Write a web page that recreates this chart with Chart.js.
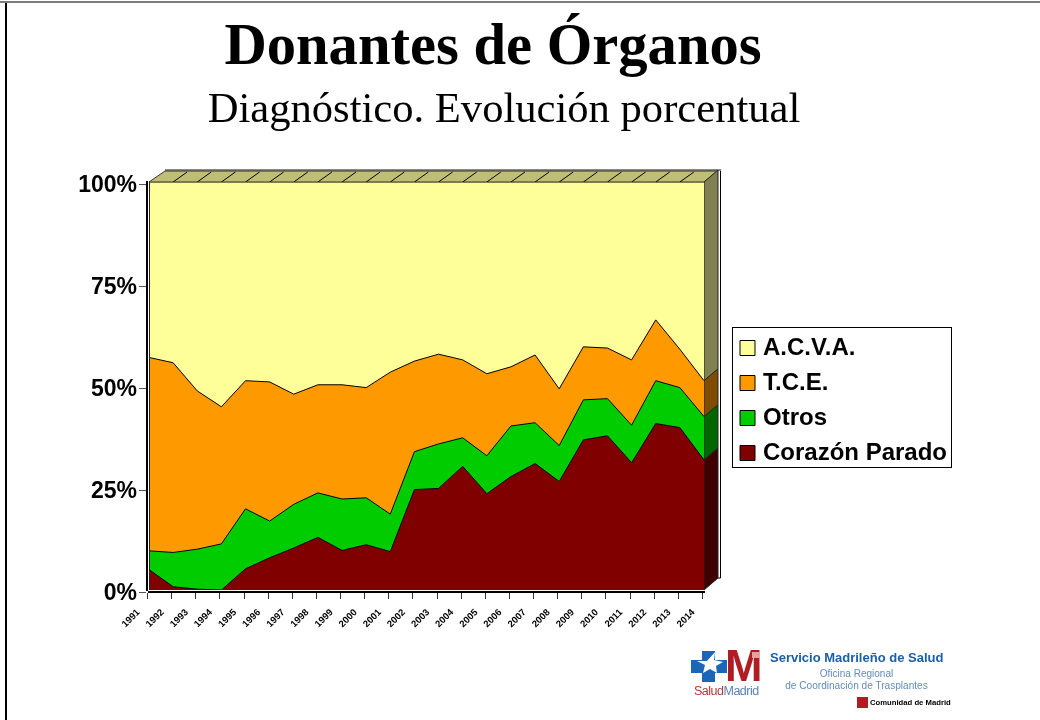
<!DOCTYPE html>
<html>
<head>
<meta charset="utf-8">
<script src="https://cdn.jsdelivr.net/npm/chart.js@4"></script>
<style>
  html, body { margin: 0; padding: 0; background: #fff; overflow: hidden; }
  #page { position: relative; width: 1040px; height: 720px; overflow: hidden; }
  #myChart { position: absolute; left: 0; top: 0; }
  .frameTop { position: absolute; left: 0; top: 1px; width: 1040px; height: 2px; background: #7c7c7c; }
  .frameLeft { position: absolute; left: 5px; top: 3px; width: 2px; height: 717px; background: #000; }
  .txt { position: absolute; white-space: nowrap; }
  #title { left: 0; width: 986px; top: 11px; text-align: center; font: bold 58.6px "Liberation Serif"; color: #000; }
  #subtitle { left: 0; width: 1008px; top: 83px; text-align: center; font: 42.6px "Liberation Serif"; color: #000; }
  #sms { left: 770px; top: 650px; font: bold 13px "Liberation Sans"; color: #1c5ea8; }
  #ofi1 { left: 785px; width: 143px; top: 668px; text-align: center; font: 10px "Liberation Sans"; color: #5f8cc2; }
  #ofi2 { left: 785px; width: 143px; top: 680px; text-align: center; font: 10.1px "Liberation Sans"; color: #5f8cc2; }
  #salud { left: 694px; top: 684px; font: 12.5px "Liberation Sans"; letter-spacing: -0.5px; color: #b23a3a; }
  #salud span { color: #5b7fb5; }
  #cam { left: 870px; top: 698px; font: bold 7.7px "Liberation Sans"; color: #000; }
  #logoM { left: 725px; top: 640px; font: bold 45px "Liberation Sans"; color: #b01c22; }
  #logoMark { position: absolute; left: 752px; top: 652px; width: 8px; height: 6px; background: #e2a3a5; }
  svg { position: absolute; }
</style>
</head>
<body>
<div id="page">
  <canvas id="myChart" width="1040" height="720"></canvas>
  <div class="frameTop"></div><div class="frameLeft"></div>
  <div class="txt" id="title">Donantes de Órganos</div>
  <div class="txt" id="subtitle">Diagnóstico. Evolución porcentual</div>
  <svg style="left:691px;top:649px" width="36" height="34" viewBox="0 0 36 34">
    <path d="M11 2h13v9h12v13H24v9H11v-9H0V11h11z" fill="#1c66b8"/>
    <path d="M24 3l-1 8 9 2-7 4 1 7-7-4-7 4 2-8-8-4h10z" fill="#fff"/>
  </svg>
  <div class="txt" id="logoM">M</div>
  <div id="logoMark"></div>
  <div class="txt" id="salud">Salud<span>Madrid</span></div>
  <div class="txt" id="sms">Servicio Madrileño de Salud</div>
  <div class="txt" id="ofi1">Oficina Regional</div>
  <div class="txt" id="ofi2">de Coordinación de Trasplantes</div>
  <svg style="left:857px;top:697px" width="11" height="11"><rect width="11" height="11" fill="#b01c22"/></svg>
  <div class="txt" id="cam">Comunidad de Madrid</div>
</div>
<script>
const years = ['1991','1992','1993','1994','1995','1996','1997','1998','1999','2000','2001','2002',
  '2003','2004','2005','2006','2007','2008','2009','2010','2011','2012','2013','2014'];

const corazonParado = [5.0,0.8,0.2,0,5.2,7.9,10.3,12.9,9.7,11.1,9.4,24.6,24.9,30.3,23.6,27.8,31.0,26.6,36.8,37.8,31.2,40.8,39.8,31.9];
const otros = [4.6,8.4,9.8,11.3,14.7,9.0,10.7,10.9,12.6,11.5,9.2,9.3,10.9,7.0,9.3,12.4,10.0,8.8,9.8,9.1,9.2,10.5,9.8,10.6];
const tce = [47.4,46.5,38.8,33.6,31.4,34.1,27.0,26.5,28.0,27.0,34.8,22.2,22.0,19.1,20.1,14.5,16.6,13.9,13.0,12.4,16.0,14.9,9.4,8.8];
const acva = [43.0,44.3,51.2,55.1,48.7,49.0,52.0,49.7,49.7,50.4,46.6,43.9,42.2,43.6,47.0,45.3,42.4,50.7,40.4,40.7,43.6,33.8,41.0,48.7];

const yTicks = [0, 25, 50, 75, 100];

const depthX = 14;
const depthY = 12;

// side and top walls of the 3D look, taken from the scales
const walls = {
  id: 'walls',
  beforeDatasetsDraw(chart) {
    const ctx = chart.ctx;
    const area = chart.chartArea;
    const x = chart.scales.x;
    ctx.save();
    // back frame
    ctx.strokeStyle = '#8a8a8a';
    ctx.lineWidth = 2;
    ctx.beginPath();
    ctx.moveTo(area.left + 16, area.top - 12);
    ctx.lineTo(area.right + 17, area.top - 12);
    ctx.stroke();
    ctx.strokeStyle = '#000';
    ctx.lineWidth = 1;
    ctx.beginPath();
    ctx.moveTo(area.right + 16.5, area.top - 11);
    ctx.lineTo(area.right + 16.5, area.bottom - depthY);
    ctx.lineTo(area.right + depthX, area.bottom - depthY);
    ctx.stroke();
    // top face
    ctx.fillStyle = '#bfbf73';
    ctx.strokeStyle = '#333';
    ctx.beginPath();
    ctx.moveTo(area.left, area.top);
    ctx.lineTo(area.left + 16, area.top - 11);
    ctx.lineTo(area.right + depthX, area.top - 11);
    ctx.lineTo(area.right, area.top);
    ctx.closePath();
    ctx.fill();
    ctx.stroke();
    ctx.strokeStyle = '#000';
    for (let i = 1; i < years.length - 1; i++) {
      const px = x.getPixelForValue(i);
      ctx.beginPath();
      ctx.moveTo(px, area.top);
      ctx.lineTo(px + depthX, area.top - 10);
      ctx.stroke();
    }
    // right face, one band per series
    const sideColors = ['#400000', '#006600', '#7f4c00', '#808050'];
    const last = years.length - 1;
    let sum = 0;
    chart.data.datasets.forEach(function (ds, i) {
      const y0 = chart.scales.y.getPixelForValue(sum);
      sum += ds.data[last];
      const y1 = chart.scales.y.getPixelForValue(sum);
      ctx.fillStyle = sideColors[i];
      ctx.beginPath();
      ctx.moveTo(area.right, y0);
      ctx.lineTo(area.right, y1);
      ctx.lineTo(area.right + depthX, y1 - depthY);
      ctx.lineTo(area.right + depthX, y0 - depthY);
      ctx.closePath();
      ctx.fill();
      ctx.strokeStyle = '#222';
      ctx.stroke();
    });
    ctx.restore();
  },
  afterLayout(chart) {
    // legend sits outside the plot, its bottom is left loose so no item wraps
    const l = chart.legend;
    l.left = 733;
    l.right = 733 + 219;
    l.top = 325;
    l.bottom = 325 + 300;
    // axes stand slightly off the walls, as in a 3D chart
    const x = chart.scales.x;
    const y = chart.scales.y;
    x.top += 2;
    x.bottom += 2;
    y.left -= 2;
    y.right -= 2;
    const xTick = x.getPixelForTick.bind(x);
    const yTick = y.getPixelForTick.bind(y);
    x.getPixelForTick = function (i) { return xTick(i) - 1.5; };
    y.getPixelForTick = function (i) { return yTick(i) + 2; };
  },
  afterDatasetsDraw(chart) {
    const ctx = chart.ctx;
    const area = chart.chartArea;
    ctx.save();
    ctx.strokeStyle = '#222';
    ctx.lineWidth = 1;
    ctx.beginPath();
    ctx.moveTo(area.left + 0.5, area.top);
    ctx.lineTo(area.left + 0.5, area.bottom);
    ctx.stroke();
    ctx.restore();
  },
  afterDraw(chart) {
    const ctx = chart.ctx;
    ctx.save();
    ctx.strokeStyle = '#000';
    ctx.lineWidth = 1;
    ctx.strokeRect(732.5, 327.5, 219, 140);
    ctx.restore();
  }
};

const chartData = {
  labels: years,
  datasets: [
    { label: 'Corazón Parado', data: corazonParado, backgroundColor: '#800000', borderColor: '#000', borderWidth: 1, fill: 'origin', pointRadius: 0, pointStyle: 'rect', tension: 0 },
    { label: 'Otros', data: otros, backgroundColor: '#00cc00', borderColor: '#000', borderWidth: 1, fill: '-1', pointRadius: 0, pointStyle: 'rect', tension: 0 },
    { label: 'T.C.E.', data: tce, backgroundColor: '#ff9900', borderColor: '#000', borderWidth: 1, fill: '-1', pointRadius: 0, pointStyle: 'rect', tension: 0 },
    { label: 'A.C.V.A.', data: acva, backgroundColor: '#ffff99', borderColor: '#000', borderWidth: 1, fill: '-1', pointRadius: 0, pointStyle: 'rect', tension: 0 }
  ]
};

const config = {
  type: 'line',
  data: chartData,
  plugins: [walls],
  options: {
    responsive: false,
    animation: false,
    layout: { padding: { top: 182, right: 336, left: 0, bottom: 0 } },
    plugins: {
      title: { display: false },
      tooltip: { enabled: false },
      legend: {
        position: 'chartArea',
        align: 'start',
        reverse: true,
        labels: {
          usePointStyle: true,
          boxWidth: 7,
          boxHeight: 15,
          padding: 11,
          color: '#000',
          font: { family: 'Liberation Sans', weight: 'bold', size: 24 }
        }
      }
    },
    scales: {
      x: {
        type: 'category',
        offset: false,
        afterFit(scale) { scale.height = 130; },
        border: { color: '#000', width: 2 },
        grid: { drawOnChartArea: false, color: '#333', tickLength: 7 },
        ticks: {
          autoSkip: false,
          minRotation: 45,
          maxRotation: 45,
          padding: 8,
          labelOffset: -9,
          color: '#000',
          font: { family: 'Liberation Sans', weight: 'bold', size: 9.5 }
        }
      },
      y: {
        stacked: true,
        min: 0,
        max: 100,
        afterFit(scale) { scale.width = 149; },
        afterBuildTicks(scale) { scale.ticks = yTicks.map(function (v) { return { value: v }; }); },
        border: { color: '#000', width: 2 },
        grid: { drawOnChartArea: false, color: '#555', tickLength: 8 },
        ticks: {
          padding: 2,
          labelOffset: 2,
          color: '#000',
          font: { family: 'Liberation Sans', weight: 'bold', size: 23 },
          callback(v) { return v + '%'; }
        }
      }
    }
  }
};

const myChart = new Chart(document.getElementById('myChart'), config);
</script>
</body>
</html>
